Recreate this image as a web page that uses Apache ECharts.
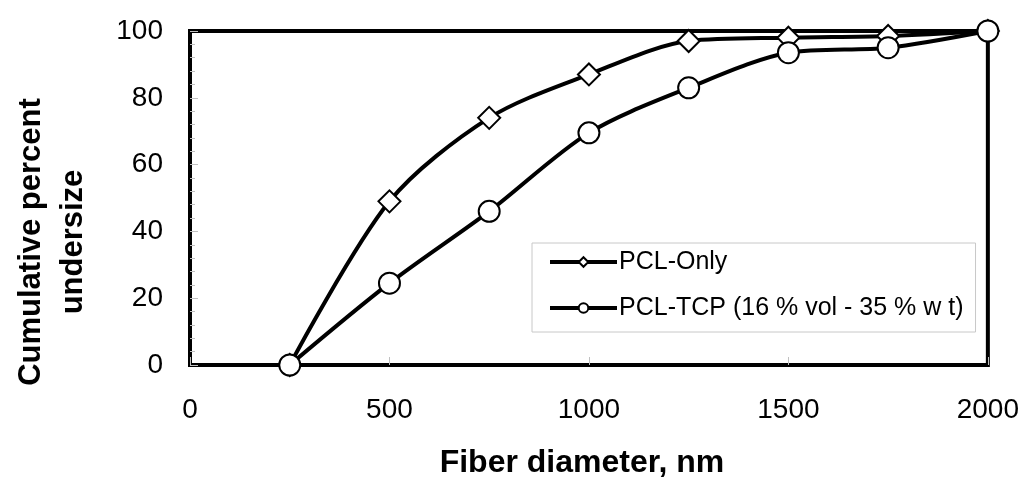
<!DOCTYPE html>
<html>
<head>
<meta charset="utf-8">
<script src="https://cdn.jsdelivr.net/npm/echarts@6/dist/echarts.min.js"></script>
<style>
  html, body { margin: 0; padding: 0; background: #fff; }
  #chart { width: 1022px; height: 484px; }
</style>
</head>
<body>
<div id="chart"></div>
<script>
const diameters = [250, 500, 750, 1000, 1250, 1500, 1750, 2000]
const pclOnly = [0, 49, 74, 87, 97, 98, 98.5, 100]
const pclTcp = [0, 24.5, 46, 69.5, 83, 93.5, 95, 100]
const xTicks = [0, 500, 1000, 1500, 2000]
const yTicks = [0, 20, 40, 60, 80, 100]

const font = 'Liberation Sans, Arial, sans-serif'
const chart = echarts.init(document.getElementById('chart'))

function pairs(values) {
  return diameters.map((d, i) => [d, values[i]])
}

chart.setOption({
  animation: false,
  grid: {
    left: 190,
    right: 34,
    top: 31,
    bottom: 119,
    show: true,
    borderColor: '#000',
    borderWidth: 4,
  },
  legend: {
    orient: 'vertical',
    left: 532,
    top: 243,
    padding: [6, 12, 11, 16],
    itemGap: 20,
    itemWidth: 67,
    itemHeight: 12,
    backgroundColor: '#fff',
    borderColor: '#c8c8c8',
    borderWidth: 1,
    lineStyle: { width: 4, color: '#000' },
    textStyle: { fontFamily: font, fontSize: 25, lineHeight: 26, color: '#000', padding: [0, 0, 0, -3] },
    data: ['PCL-Only', 'PCL-TCP (16 % vol - 35 % w t)'],
  },
  xAxis: {
    type: 'value',
    min: 0,
    max: 2000,
    interval: 500,
    name: 'Fiber diameter, nm',
    nameLocation: 'middle',
    nameGap: 82,
    nameTextStyle: {
      fontFamily: font, fontSize: 32, fontWeight: 'bold', color: '#000',
      padding: [0, 14, 0, 0],
    },
    splitLine: { show: false },
    axisLine: { show: false },
    axisTick: { show: true, inside: true, length: 8, lineStyle: { color: '#c0c0c0', width: 1 } },
    axisLabel: {
      fontFamily: font, fontSize: 28, color: '#000', margin: 31,
      formatter: v => xTicks.includes(v) ? String(v) : '',
    },
  },
  yAxis: {
    type: 'value',
    min: 0,
    max: 100,
    interval: 20,
    name: 'Cumulative percent\nundersize',
    nameLocation: 'middle',
    nameGap: 96,
    nameTextStyle: {
      fontFamily: font, fontSize: 31, fontWeight: 'bold', color: '#000', lineHeight: 42,
      padding: [0, 88, 0, 0],
    },
    splitLine: { show: false },
    axisLine: { show: false },
    axisTick: { show: true, inside: true, length: 8, lineStyle: { color: '#c0c0c0', width: 1 } },
    minorTick: { show: true, splitNumber: 5, length: 5, lineStyle: { color: '#c0c0c0', width: 1 } },
    axisLabel: {
      fontFamily: font, fontSize: 28, color: '#000', margin: 27,
      padding: [0, 0, 6, 0],
      formatter: v => yTicks.includes(v) ? String(v) : '',
    },
  },
  series: [
    {
      name: 'PCL-Only',
      type: 'line',
      smooth: 0.3,
      data: pairs(pclOnly),
      symbol: 'diamond',
      symbolSize: 22,
      lineStyle: { color: '#000', width: 4 },
      itemStyle: { color: '#fff', borderColor: '#000', borderWidth: 2 },
      z: 2,
    },
    {
      name: 'PCL-TCP (16 % vol - 35 % w t)',
      type: 'line',
      smooth: 0.3,
      data: pairs(pclTcp),
      symbol: 'circle',
      symbolSize: 21,
      lineStyle: { color: '#000', width: 4 },
      itemStyle: { color: '#fff', borderColor: '#000', borderWidth: 2 },
      z: 3,
    },
  ],
})
</script>
</body>
</html>
